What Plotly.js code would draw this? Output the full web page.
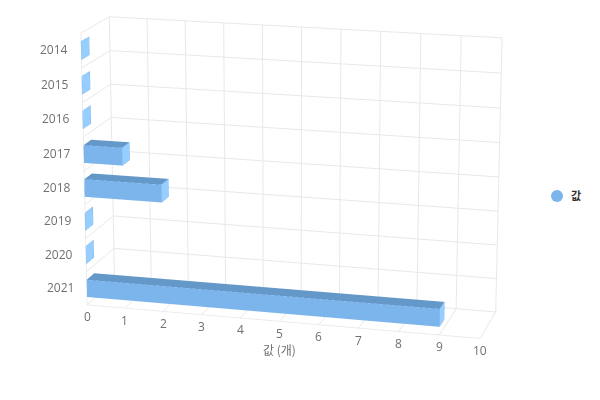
<!DOCTYPE html>
<html><head><meta charset="utf-8">
<script src="https://cdn.plot.ly/plotly-3.0.1.min.js"></script>
<style>html,body{margin:0;padding:0;background:#fff;overflow:hidden;width:600px;height:400px}#c{position:absolute;left:0;top:-826px;width:600px;height:2000px}</style>
</head><body><div id="c"></div>
<script>
const categories=['2014','2015','2016','2017','2018','2019','2020','2021'];
const values=[0,0,0,1,2,0,0,9];
const seriesName='값';
const valueTicks=[0,1,2,3,4,5,6,7,8,9,10];
const axisTitle='값 (개)';
const cFront='#7cb5ec',cTop='#6398c9',cSide='#95ceff';
const halfH=0.26,depth=0.27;
let X=[],Y=[],Z=[],I=[],J=[],K=[],FC=[];
let LX=[],LY=[],LZ=[];
function addQuad(a,b,c,d,col){I.push(a,a);J.push(b,c);K.push(c,d);FC.push(col,col);}
values.forEach((v,i)=>{
  const b=X.length;
  [[0,0,i+halfH],[v,0,i+halfH],[v,0,i-halfH],[0,0,i-halfH],[0,depth,i+halfH],[v,depth,i+halfH],[v,depth,i-halfH],[0,depth,i-halfH]]
    .forEach(p=>{X.push(p[0]);Y.push(p[1]);Z.push(p[2]);});
  addQuad(b,b+1,b+2,b+3,cFront);
  addQuad(b+3,b+2,b+6,b+7,cTop);
  addQuad(b+1,b+5,b+6,b+2,cSide);
  LX.push(v,v,v,v,v,null);
  LY.push(0,depth,depth,0,0,null);
  LZ.push(i+halfH,i+halfH,i-halfH,i-halfH,i+halfH,null);
});
const bars={type:'mesh3d',x:X,y:Y,z:Z,i:I,j:J,k:K,facecolor:FC,flatshading:true,showlegend:false,showscale:false,hoverinfo:'skip',
  lighting:{ambient:1,diffuse:0,specular:0,roughness:1,fresnel:0},lightposition:{x:0,y:0,z:1000}};
const sideEdges={type:'scatter3d',mode:'lines',x:LX,y:LY,z:LZ,showlegend:false,hoverinfo:'skip',line:{color:cFront,width:1}};
const legendTrace={type:'scatter3d',mode:'markers',x:[null],y:[null],z:[null],name:seriesName,showlegend:true,marker:{color:cFront,size:12,symbol:'circle'},hoverinfo:'skip'};
const tickFont={family:'"Open Sans",sans-serif',size:12,color:'#707070'};
const annos=[];
categories.forEach((c,i)=>annos.push({x:0,y:0,z:i,text:c,showarrow:false,xanchor:'right',xshift:-11,yshift:1,font:tickFont}));
valueTicks.forEach(v=>annos.push({x:v,y:0,z:7.5,text:String(v),showarrow:false,yshift:-12,font:tickFont}));
annos.push({x:5,y:0,z:7.5,text:axisTitle,showarrow:false,yshift:-28,xshift:0,font:{family:'"Noto Sans CJK KR",sans-serif',size:12,color:'#707070'}});
const g={showbackground:false,showline:false,zeroline:false,showspikes:false,ticks:'',showticklabels:false,title:{text:''},gridcolor:'#e8e8e8',gridwidth:2};
const layout={width:600,height:2000,margin:{l:0,r:0,t:0,b:0},paper_bgcolor:'#fff',hovermode:false,
 legend:{x:0.895,y:0.489,xanchor:'left',yanchor:'middle',font:{family:'"Noto Sans CJK KR",sans-serif',size:11,color:'#333',weight:700},itemsizing:'constant'},
 scene:{domain:{x:[0,0.9683],y:[0,1]},aspectmode:'manual',aspectratio:{x:2,y:0.42,z:1.39},
  camera:{projection:{type:'perspective'},center:{x:0,y:0,z:0},up:{x:0,y:0,z:1},eye:{x:2.97,y:-11.08,z:3.08}},
  xaxis:Object.assign({},g,{range:[0,10],dtick:1,tick0:0}),
  yaxis:Object.assign({},g,{range:[0,1],dtick:1,tick0:0}),
  zaxis:Object.assign({},g,{range:[7.5,-0.5],dtick:1,tick0:-0.5}),
  annotations:annos}};
Plotly.newPlot('c',[bars,sideEdges,legendTrace],layout,{displayModeBar:false}).then(()=>{
  document.querySelectorAll('.legendtext').forEach(t=>t.setAttribute('x','34'));
});
</script></body></html>
